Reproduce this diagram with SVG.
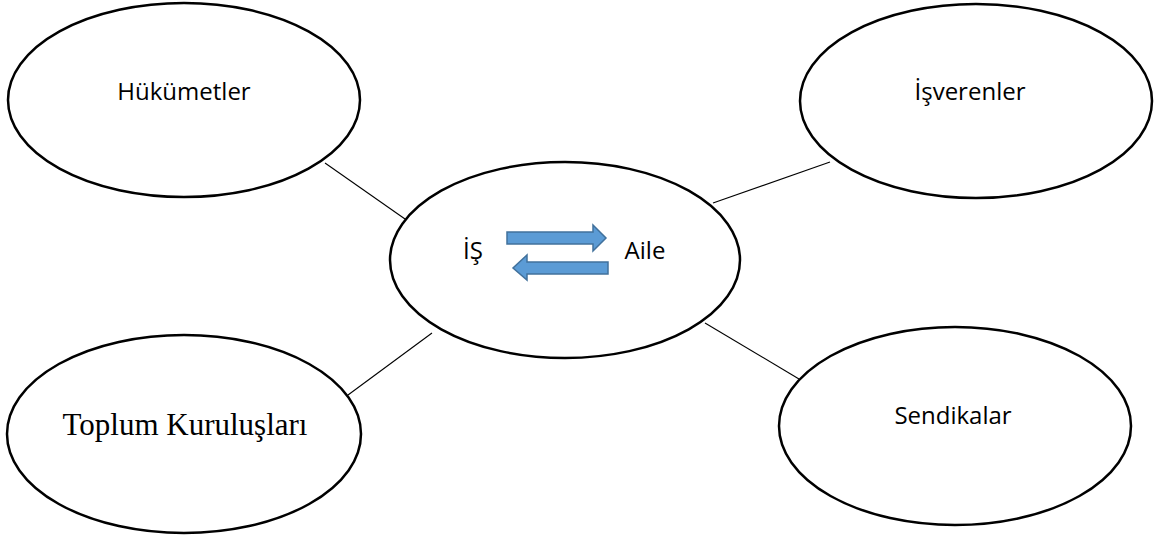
<svg xmlns="http://www.w3.org/2000/svg" width="1158" height="538" viewBox="0 0 1158 538">
<style>
.node ellipse{fill:#fff;stroke:#000;stroke-width:2.5}
.lbl{font-family:"Open Sans","Noto Sans",sans-serif;font-size:24px;fill:#000;text-anchor:middle}
.ser{font-family:"Liberation Serif","Times New Roman",serif;font-size:31px;fill:#000;text-anchor:middle}
.conn line{stroke:#000;stroke-width:1.1}
.arr{fill:#5b9bd5;stroke:#41719c;stroke-width:1.5}
</style>
<rect width="1158" height="538" fill="#fff"/>
<g id="connectors" class="conn">
<line x1="325" y1="163" x2="405" y2="219"/>
<line x1="830" y1="162" x2="713" y2="203"/>
<line x1="348" y1="395" x2="432" y2="333"/>
<line x1="705" y1="323" x2="799" y2="379"/>
</g>
<g id="hukumetler" class="node">
<ellipse cx="184" cy="100" rx="176" ry="97"/>
<text class="lbl" x="184" y="100">Hükümetler</text>
</g>
<g id="isverenler" class="node">
<ellipse cx="976" cy="101" rx="176" ry="97"/>
<text class="lbl" x="970" y="100">İşverenler</text>
</g>
<g id="toplum" class="node">
<ellipse cx="184" cy="434" rx="177" ry="99"/>
<text class="ser" x="185" y="435">Toplum Kuruluşları</text>
</g>
<g id="sendikalar" class="node">
<ellipse cx="955" cy="426" rx="176" ry="99"/>
<text class="lbl" x="953" y="424">Sendikalar</text>
</g>
<g id="center" class="node">
<ellipse cx="565" cy="260" rx="175" ry="98"/>
<text class="lbl" x="473" y="259">İŞ</text>
<text class="lbl" x="645" y="259">Aile</text>
<polygon class="arr" points="507,232 593,232 593,225 606,238 593,251 593,244 507,244"/>
<polygon class="arr" points="608,262 527,262 527,255 513,268 527,280 527,274 608,274"/>
</g>
</svg>
